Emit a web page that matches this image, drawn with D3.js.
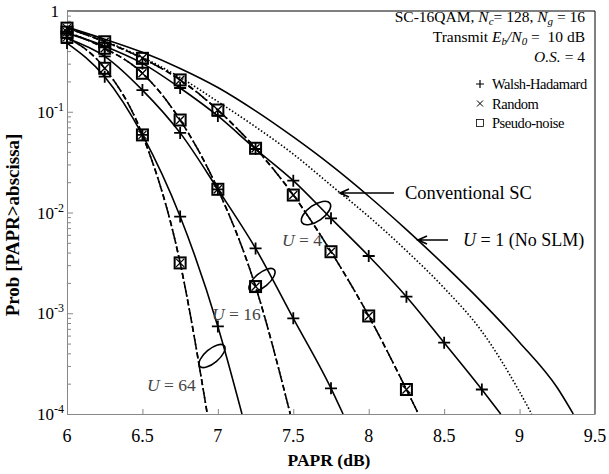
<!DOCTYPE html>
<html>
<head>
<meta charset="utf-8">
<script src="https://cdn.jsdelivr.net/npm/d3@7"></script>
<style>
  body { margin: 0; background: #fff; }
  svg { display: block; font-family: 'Liberation Serif', 'Times New Roman', serif; }
</style>
</head>
<body>
<svg id="chart" width="609" height="474"></svg>
<script>
// ---- data ----
var u1X   = [6, 6.25, 6.5, 6.75, 7, 7.25, 7.5, 7.75, 8, 8.25, 8.5, 8.75, 9, 9.25, 9.356];
var u1P   = [0.692, 0.525, 0.389, 0.269, 0.174, 0.102, 0.0562, 0.0295, 0.0145, 0.00676, 0.00302, 0.00129, 0.000513, 0.000182, 0.0001];

var convX = [6, 6.25, 6.5, 6.75, 7, 7.25, 7.5, 7.75, 8, 8.25, 8.5, 8.75, 9, 9.08];
var convP = [0.676, 0.501, 0.347, 0.219, 0.126, 0.0708, 0.038, 0.0186, 0.00912, 0.00417, 0.00178, 0.00066, 0.000166, 0.0001];

var u4whX = [6, 6.25, 6.5, 6.75, 7, 7.25, 7.5, 7.75, 8, 8.25, 8.5, 8.75, 8.875];
var u4whP = [0.603, 0.447, 0.302, 0.172, 0.0908, 0.0427, 0.0207, 0.00875, 0.0037, 0.00146, 0.00051, 0.000175, 0.0001];
var u4pnX = [6, 6.25, 6.5, 6.75, 7, 7.25, 7.5, 7.75, 8, 8.25, 8.33];
var u4pnP = [0.676, 0.495, 0.339, 0.207, 0.104, 0.0434, 0.0149, 0.00408, 0.00094, 0.000175, 0.0001];
var u4rdP = [0.676, 0.495, 0.339, 0.207, 0.104, 0.0434, 0.0149, 0.00408, 0.00094, 0.000175, 0.0001];

var u16whX = [6, 6.25, 6.5, 6.75, 7, 7.25, 7.5, 7.75, 7.83];
var u16whP = [0.537, 0.355, 0.164, 0.0617, 0.017, 0.0044, 0.00089, 0.00018, 0.0001];
var u16pnX = [6, 6.25, 6.5, 6.75, 7, 7.25, 7.48];
var u16pnP = [0.617, 0.427, 0.241, 0.0828, 0.017, 0.00184, 0.0001];
var u16rdP = [0.617, 0.427, 0.241, 0.0828, 0.017, 0.00184, 0.0001];

var u64whX = [6, 6.25, 6.5, 6.75, 7, 7.16];
var u64whP = [0.481, 0.223, 0.0589, 0.00912, 0.00074, 0.0001];
var u64pnX = [6, 6.25, 6.5, 6.75, 6.93];
var u64pnP = [0.55, 0.27, 0.0589, 0.00316, 0.0001];
var u64rdP = [0.55, 0.27, 0.0589, 0.00316, 0.0001];

var xTicks = [6, 6.5, 7, 7.5, 8, 8.5, 9, 9.5];
var yTicks = [1, 1e-1, 1e-2, 1e-3, 1e-4];
var legendItems = ['Walsh-Hadamard', 'Random', 'Pseudo-noise'];

// ---- layout ----
var plotL = 67, plotR = 595, plotT = 11, plotB = 414;
var svg = d3.select('#chart');
var x = d3.scaleLinear().domain([6, 9.5]).range([plotL, plotR]);
var y = d3.scaleLog().domain([1e-4, 1]).range([plotB, plotT]);
var axisColor = '#888';
var NB = '\u00a0';

function pts(xs, ps){
	return xs.map(function(v, i){ return [v, ps[i]]; });
}
var line = d3.line()
	.x(function(d){ return x(d[0]); })
	.y(function(d){ return y(d[1]); })
	.curve(d3.curveMonotoneX);

// frame top/right in black
svg.append('path')
	.attr('d', 'M' + plotL + ',' + plotT + 'H' + plotR + 'V' + plotB)
	.attr('fill', 'none').attr('stroke', '#000').attr('stroke-width', 1);

// x axis (ticks inside)
var xAxis = d3.axisBottom(x).tickValues(xTicks).tickSize(-5).tickSizeOuter(0).tickFormat('');
var gx = svg.append('g').attr('transform', 'translate(0,' + plotB + ')').call(xAxis);
gx.selectAll('path, line').attr('stroke', axisColor);

// y axis with minor log ticks
var minor = [];
for (var e = -4; e < 0; e++){
	for (var m = 1; m < 10; m++){ minor.push(m * Math.pow(10, e)); }
}
minor.push(1);
var yAxis = d3.axisLeft(y).tickValues(minor).tickSize(-4).tickSizeOuter(0).tickFormat('');
var gy = svg.append('g').attr('transform', 'translate(' + plotL + ',0)').call(yAxis);
gy.selectAll('path, line').attr('stroke', axisColor);
gy.selectAll('.tick line').filter(function(d){ return yTicks.indexOf(d) >= 0; }).attr('x2', 6);

// tick labels
svg.append('g').selectAll('text').data(xTicks).enter().append('text')
	.attr('x', function(d){ return x(d); })
	.attr('y', plotB + 28)
	.attr('text-anchor', 'middle')
	.attr('font-size', 18)
	.text(function(d){ return d; });

var yl = svg.append('g').selectAll('text').data(yTicks).enter().append('text')
	.attr('x', plotL - 3)
	.attr('y', function(d){ return y(d) + 6; })
	.attr('text-anchor', 'end')
	.attr('font-size', 17);
yl.each(function(d){
	var t = d3.select(this);
	if (d === 1){ t.attr('x', plotL - 8).text('1'); return; }
	t.append('tspan').text('10');
	t.append('tspan').attr('dy', -7).attr('font-size', 12).text(Math.round(Math.log10(d)));
});

// axis titles
svg.append('text')
	.attr('x', (plotL + plotR) / 2 - 2).attr('y', plotB + 52)
	.attr('text-anchor', 'middle').attr('font-size', 17.5).attr('font-weight', 'bold')
	.text('PAPR (dB)');
svg.append('text')
	.attr('transform', 'translate(19,225) rotate(-90)')
	.attr('text-anchor', 'middle').attr('font-size', 19).attr('font-weight', 'bold')
	.text('Prob [PAPR>abscissa]');

// ---- curves ----
var series = [
	{xs: u1X, ps: u1P, dash: null, mark: null},
	{xs: convX, ps: convP, dash: '1.5,2', mark: null},
	{xs: u4whX, ps: u4whP, dash: null, mark: 'plus'},
	{xs: u4pnX, ps: u4pnP, dash: '6,3', mark: 'box'},
	{xs: u4pnX, ps: u4rdP, dash: '6,3,1.5,3', mark: 'cross'},
	{xs: u16whX, ps: u16whP, dash: null, mark: 'plus'},
	{xs: u16pnX, ps: u16pnP, dash: '6,3', mark: 'box'},
	{xs: u16pnX, ps: u16rdP, dash: '6,3,1.5,3', mark: 'cross'},
	{xs: u64whX, ps: u64whP, dash: null, mark: 'plus'},
	{xs: u64pnX, ps: u64pnP, dash: '6,3', mark: 'box'},
	{xs: u64pnX, ps: u64rdP, dash: '6,3,1.5,3', mark: 'cross'}
];

var plot = svg.append('g');
series.forEach(function(s){
	var data = pts(s.xs, s.ps);
	plot.append('path')
		.attr('d', line(data))
		.attr('fill', 'none')
		.attr('stroke', '#000')
		.attr('stroke-width', 1.6)
		.attr('stroke-dasharray', s.dash);
	if (!s.mark) return;
	// last point is where the curve leaves the axis, no marker there
	var mk = plot.selectAll(null).data(data.slice(0, -1)).enter().append('g')
		.attr('transform', function(d){ return 'translate(' + x(d[0]) + ',' + y(d[1]) + ')'; });
	if (s.mark === 'plus'){
		mk.append('path').attr('d', 'M-6,0H6M0,-6V6').attr('stroke', '#000').attr('stroke-width', 1.8);
	} else if (s.mark === 'box'){
		mk.append('rect').attr('x', -5.5).attr('y', -5.5).attr('width', 11).attr('height', 11)
			.attr('fill', 'none').attr('stroke', '#000').attr('stroke-width', 2);
	} else {
		mk.append('path').attr('d', 'M-4,-4L4,4M-4,4L4,-4').attr('stroke', '#000').attr('stroke-width', 1.3);
	}
});

// ---- annotations ----
function arrow(x1, x2, yy){
	svg.append('path')
		.attr('d', 'M' + x1 + ',' + yy + 'H' + x2 + 'M' + (x2 + 9) + ',' + (yy - 4) + 'L' + x2 + ',' + yy + 'L' + (x2 + 9) + ',' + (yy + 4))
		.attr('fill', 'none').attr('stroke', '#000').attr('stroke-width', 1.6);
}
arrow(394, 340, 193);
arrow(448, 418, 240);

svg.append('text').attr('x', 405).attr('y', 199).attr('font-size', 18.5).text('Conventional SC');
var t1 = svg.append('text').attr('x', 463).attr('y', 246).attr('font-size', 18);
t1.append('tspan').attr('font-style', 'italic').text('U');
t1.append('tspan').text(NB + '=' + NB + '1 (No SLM)');

function uLabel(px, py, n){
	var t = svg.append('text').attr('x', px).attr('y', py).attr('font-size', 17.5).attr('fill', '#444');
	t.append('tspan').attr('font-style', 'italic').text('U');
	t.append('tspan').text(NB + '=' + NB + n);
}
uLabel(282, 246, 4);
uLabel(212, 320, 16);
uLabel(147, 391, 64);

function ring(cx, cy, rx, ry, ang){
	svg.append('ellipse')
		.attr('cx', cx).attr('cy', cy).attr('rx', rx).attr('ry', ry)
		.attr('transform', 'rotate(' + ang + ',' + cx + ',' + cy + ')')
		.attr('fill', 'none').attr('stroke', '#000').attr('stroke-width', 1.6);
}
ring(316, 213, 17, 8, -35);
ring(262, 280, 16, 7, -40);
ring(212, 356, 16, 7, -40);

// parameter text, right aligned
var tx = 585;
var p1 = svg.append('text').attr('x', tx).attr('y', 22).attr('text-anchor', 'end').attr('font-size', 15.5);
p1.append('tspan').text('SC-16QAM, ');
p1.append('tspan').attr('font-style', 'italic').text('N');
p1.append('tspan').attr('font-style', 'italic').attr('font-size', 11).attr('dy', 3).text('c');
p1.append('tspan').attr('dy', -3).text('=' + NB + '128, ');
p1.append('tspan').attr('font-style', 'italic').text('N');
p1.append('tspan').attr('font-style', 'italic').attr('font-size', 11).attr('dy', 3).text('g');
p1.append('tspan').attr('dy', -3).text(NB + '=' + NB + '16');

var p2 = svg.append('text').attr('x', tx).attr('y', 42).attr('text-anchor', 'end').attr('font-size', 15.5);
p2.append('tspan').text('Transmit' + NB);
p2.append('tspan').attr('font-style', 'italic').text('E');
p2.append('tspan').attr('font-style', 'italic').attr('font-size', 11).attr('dy', 3).text('b');
p2.append('tspan').attr('font-style', 'italic').attr('dy', -3).text('/N');
p2.append('tspan').attr('font-style', 'italic').attr('font-size', 11).attr('dy', 3).text('0');
p2.append('tspan').attr('dy', -3).text(NB + '=' + NB + NB + '10' + NB + 'dB');

var p3 = svg.append('text').attr('x', tx).attr('y', 62).attr('text-anchor', 'end').attr('font-size', 15.5);
p3.append('tspan').attr('font-style', 'italic').text('O.S.');
p3.append('tspan').text(NB + '=' + NB + '4');

// legend
var leg = svg.append('g').selectAll('g').data(legendItems).enter().append('g')
	.attr('transform', function(d, i){ return 'translate(480,' + (84 + i * 19.5) + ')'; });
leg.append('text').attr('x', 12).attr('y', 5).attr('font-size', 14.5)
	.attr('letter-spacing', -0.45)
	.text(function(d){ return d; });
leg.each(function(d, i){
	var g = d3.select(this);
	if (i === 0){
		g.append('path').attr('d', 'M-4,0H4M0,-4V4').attr('stroke', '#000').attr('stroke-width', 1.2);
	} else if (i === 1){
		g.append('path').attr('d', 'M-3,-3L3,3M-3,3L3,-3').attr('stroke', '#000').attr('stroke-width', 1);
	} else {
		g.append('rect').attr('x', -3.5).attr('y', -3.5).attr('width', 7).attr('height', 7)
			.attr('fill', 'none').attr('stroke', '#000').attr('stroke-width', 0.8);
	}
});
</script>
</body>
</html>
